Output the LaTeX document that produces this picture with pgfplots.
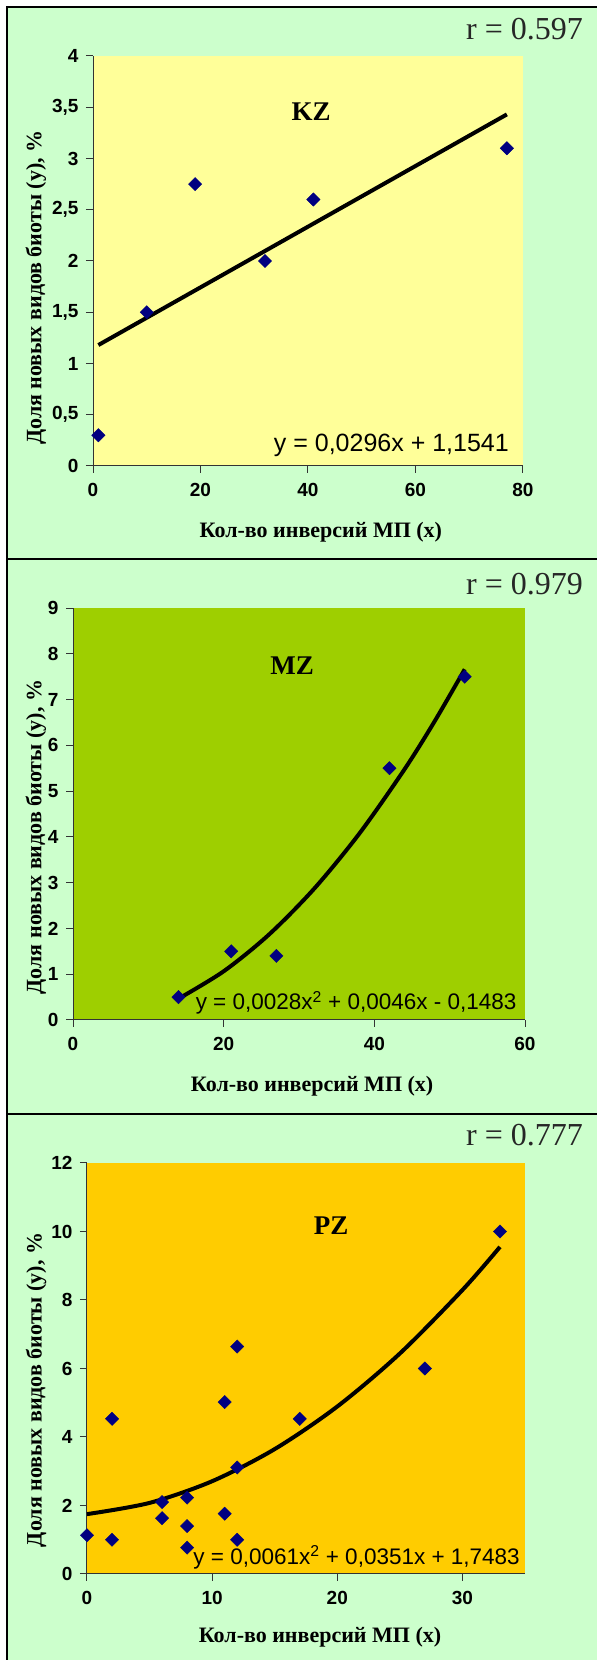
\documentclass[border=0pt]{standalone}
\usepackage{pgfplots}
\pgfplotsset{compat=1.18}
\usepackage{fontspec}
\setmainfont{Liberation Serif}
\newfontfamily\arial{Liberation Sans}

\definecolor{panelbg}{HTML}{CCFFCC}
\definecolor{kzbg}{HTML}{FFFF99}
\definecolor{mzbg}{HTML}{9ECF00}
\definecolor{pzbg}{HTML}{FFCC00}
\definecolor{navy}{HTML}{000080}

\pgfplotsset{
  panel/.style={
    scale only axis, anchor=south west, clip=false,
    axis lines=left, axis line style={-, black!80, line width=1pt},
    tick align=outside, major tick length=7pt,
    tick style={black!80, line width=1pt},
    tick label style={font=\arial\bfseries\fontsize{19}{22}\selectfont},
    xticklabel style={yshift=-7pt},
    yticklabel style={xshift=-4pt},
    /pgf/number format/use comma,
    /pgf/number format/1000 sep={},
    /pgf/number format/assume math mode=true,
    label style={font=\bfseries\fontsize{22}{26}\selectfont},
    xlabel={Кол-во инверсий МП (х)},
    ylabel={Доля новых видов биоты (у), \%},
  },
  pts/.style={only marks, color=navy, mark=square*, mark size=4.7pt,
    mark options={rotate=45, fill=navy, draw=navy}},
  trend/.style={no marks, black, line width=4pt},
}
\tikzset{
  zone/.style={font=\bfseries\fontsize{27}{30}\selectfont},
  eqn/.style={anchor=base east, inner sep=0pt, font=\arial\fontsize{22.5}{26}\selectfont},
  rval/.style={anchor=base east, inner sep=0pt, font=\fontsize{32}{36}\selectfont, text=black!85},
}

\begin{document}
\begin{tikzpicture}[x=1pt, y=1pt]
\useasboundingbox (0,0) rectangle (597,1660);
\fill[white] (0,0) rectangle (597,1660);
% three framed panels
\filldraw[fill=panelbg, draw=black, line width=1.5pt] (7,1101) rectangle (620,1653);
\filldraw[fill=panelbg, draw=black, line width=1.5pt] (7,546) rectangle (620,1101);
\filldraw[fill=panelbg, draw=black, line width=1.5pt] (7,-20) rectangle (620,546);

\node[rval] at (583,1620) {r = 0.597};
\node[rval] at (583,1065) {r = 0.979};
\node[rval] at (583,514) {r = 0.777};

% KZ
\begin{axis}[panel, at={(93pt,1194pt)}, width=430pt, height=410pt,
  xmin=0, xmax=80, ymin=0, ymax=4,
  xtick={0,20,...,80}, ytick={0,0.5,...,4},
  axis background/.style={fill=kzbg},
  xlabel style={at={(axis description cs:0.53,-0.161)}, anchor=center},
  ylabel style={at={(axis description cs:-0.1326,0.435)}, anchor=center}]
\addplot[trend] coordinates {(1,1.18) (77,3.43)};
\addplot[pts] coordinates {(1,0.3) (10,1.5) (19,2.75) (32,2.0) (41,2.6) (77,3.1)};
\node[zone] at (axis cs:40.6,3.46) {KZ};
\node[eqn, font=\arial\fontsize{25}{28}\selectfont] at (axis cs:77.4,0.137) {y = 0,0296x + 1,1541};
\end{axis}

% MZ
\begin{axis}[panel, at={(73pt,640pt)}, width=452pt, height=412pt,
  xmin=0, xmax=60, ymin=0, ymax=9,
  xtick={0,20,40,60}, ytick={0,1,...,9},
  axis background/.style={fill=mzbg},
  xlabel style={at={(axis description cs:0.529,-0.160)}, anchor=center},
  ylabel style={at={(axis description cs:-0.0819,0.444)}, anchor=center}]
\addplot[trend, smooth] coordinates {(14,0.465) (20,1.064) (26,1.864) (32,2.866) (38,4.070) (44,5.475) (48,6.524) (52,7.662)};
\addplot[pts] coordinates {(14,0.5) (21,1.5) (27,1.4) (42,5.5) (52,7.5)};
\node[zone] at (axis cs:29.1,7.73) {MZ};
\node[eqn] at (axis cs:58.9,0.22) {y = 0,0028x\textsuperscript{2} + 0,0046x - 0,1483};
\end{axis}

% PZ
\begin{axis}[panel, at={(87pt,86pt)}, width=438pt, height=411pt,
  xmin=0, xmax=35, ymin=0, ymax=12,
  xtick={0,10,20,30}, ytick={0,2,...,12},
  axis background/.style={fill=pzbg},
  xlabel style={at={(axis description cs:0.532,-0.153)}, anchor=center},
  ylabel style={at={(axis description cs:-0.1164,0.448)}, anchor=center}]
\addplot[trend, smooth] coordinates {(0,1.748) (5,2.076) (10,2.709) (15,3.647) (20,4.890) (25,6.438) (30,8.291) (33,9.550)};
\addplot[pts] coordinates {(0,1.13) (2,4.53) (2,1.0) (6,2.1) (6,1.63) (8,2.23) (8,1.4) (8,0.77)
  (11,5.02) (11,1.76) (12,6.64) (12,3.11) (12,1.0) (17,4.53) (27,6.0) (33,10.0)};
\node[zone] at (axis cs:19.5,10.16) {PZ};
\node[eqn] at (axis cs:34.6,0.29) {y = 0,0061x\textsuperscript{2} + 0,0351x + 1,7483};
\end{axis}
\end{tikzpicture}
\end{document}
